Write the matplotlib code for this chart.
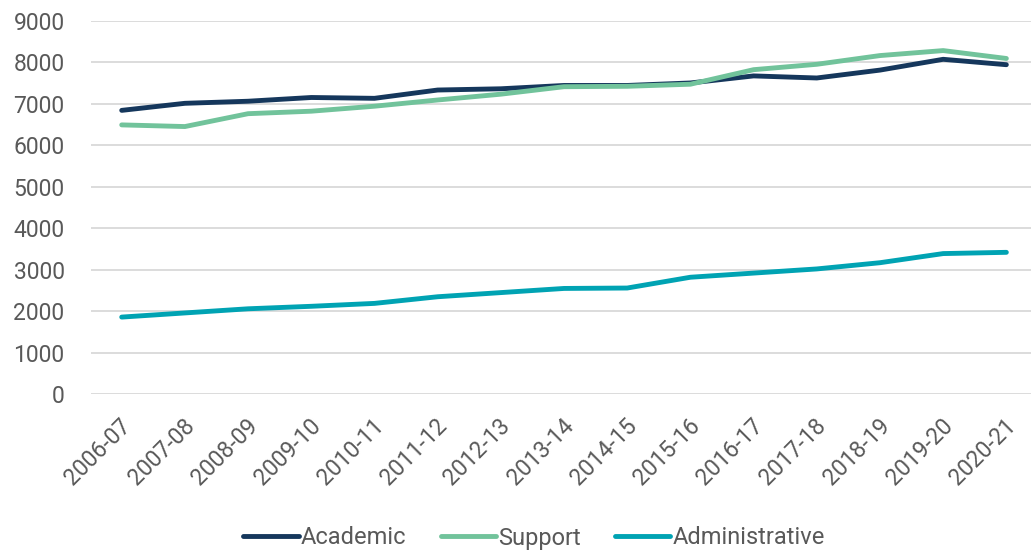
import matplotlib
matplotlib.use("Agg")
import matplotlib.pyplot as plt
from matplotlib.transforms import ScaledTranslation

years = ["2006-07", "2007-08", "2008-09", "2009-10", "2010-11", "2011-12", "2012-13",
         "2013-14", "2014-15", "2015-16", "2016-17", "2017-18", "2018-19", "2019-20", "2020-21"]
academic = [6840, 7010, 7060, 7150, 7130, 7330, 7360, 7440, 7440, 7500, 7670, 7620, 7810, 8070, 7940]
support = [6490, 6450, 6760, 6820, 6940, 7090, 7230, 7410, 7420, 7470, 7820, 7950, 8160, 8280, 8090]
administrative = [1860, 1960, 2060, 2120, 2190, 2350, 2450, 2550, 2560, 2820, 2920, 3020, 3170, 3390, 3420]
yticks = [0, 1000, 2000, 3000, 4000, 5000, 6000, 7000, 8000, 9000]

plt.rcParams['font.family'] = ['Roboto', 'DejaVu Sans']
W, H = 1031, 552
fig = plt.figure(figsize=(W / 100, H / 100), dpi=100)
left, right = 91 / W, 1.0
bottom, top = (H - 394.3) / H, (H - 20.7) / H
ax = fig.add_axes([left, bottom, right - left, top - bottom])

x = list(range(len(years)))
lw = 3.5
ax.plot(x, academic, color="#15375C", lw=lw, solid_capstyle="round", label="Academic", zorder=3)
ax.plot(x, support, color="#71C39B", lw=lw, solid_capstyle="round", label="Support", zorder=3)
ax.plot(x, administrative, color="#00A3B3", lw=lw, solid_capstyle="round", label="Administrative", zorder=3)

fs = 16.5
ax.set_xlim(-0.486, 14.39)
ax.set_ylim(0, 9000)
ax.set_yticks(yticks)
ax.set_yticklabels([str(v) for v in yticks])
ax.set_xticks(x)
ax.set_xticklabels(years, rotation=45, ha="right", va="center", rotation_mode="anchor")
ax.tick_params(axis="y", length=0, pad=19, labelsize=fs, labelcolor="#595959")
ax.tick_params(axis="x", length=0, pad=20, labelsize=fs, labelcolor="#595959")
ax.grid(axis="y", color="#D9D9D9", lw=1.3)
for lab in ax.get_xticklabels():
    lab.set_transform(lab.get_transform() + ScaledTranslation(6 / 100, 0, fig.dpi_scale_trans))
for s in ax.spines.values():
    s.set_visible(False)
ax.set_axisbelow(True)

leg = fig.legend(loc="center", bbox_to_anchor=(0.518, (H - 538) / H), ncol=3, frameon=False,
                 fontsize=17, handlelength=2.35, handletextpad=0.08, columnspacing=1.45)
for t in leg.get_texts():
    t.set_color("#595959")

fig.savefig("out.png", dpi=100)
